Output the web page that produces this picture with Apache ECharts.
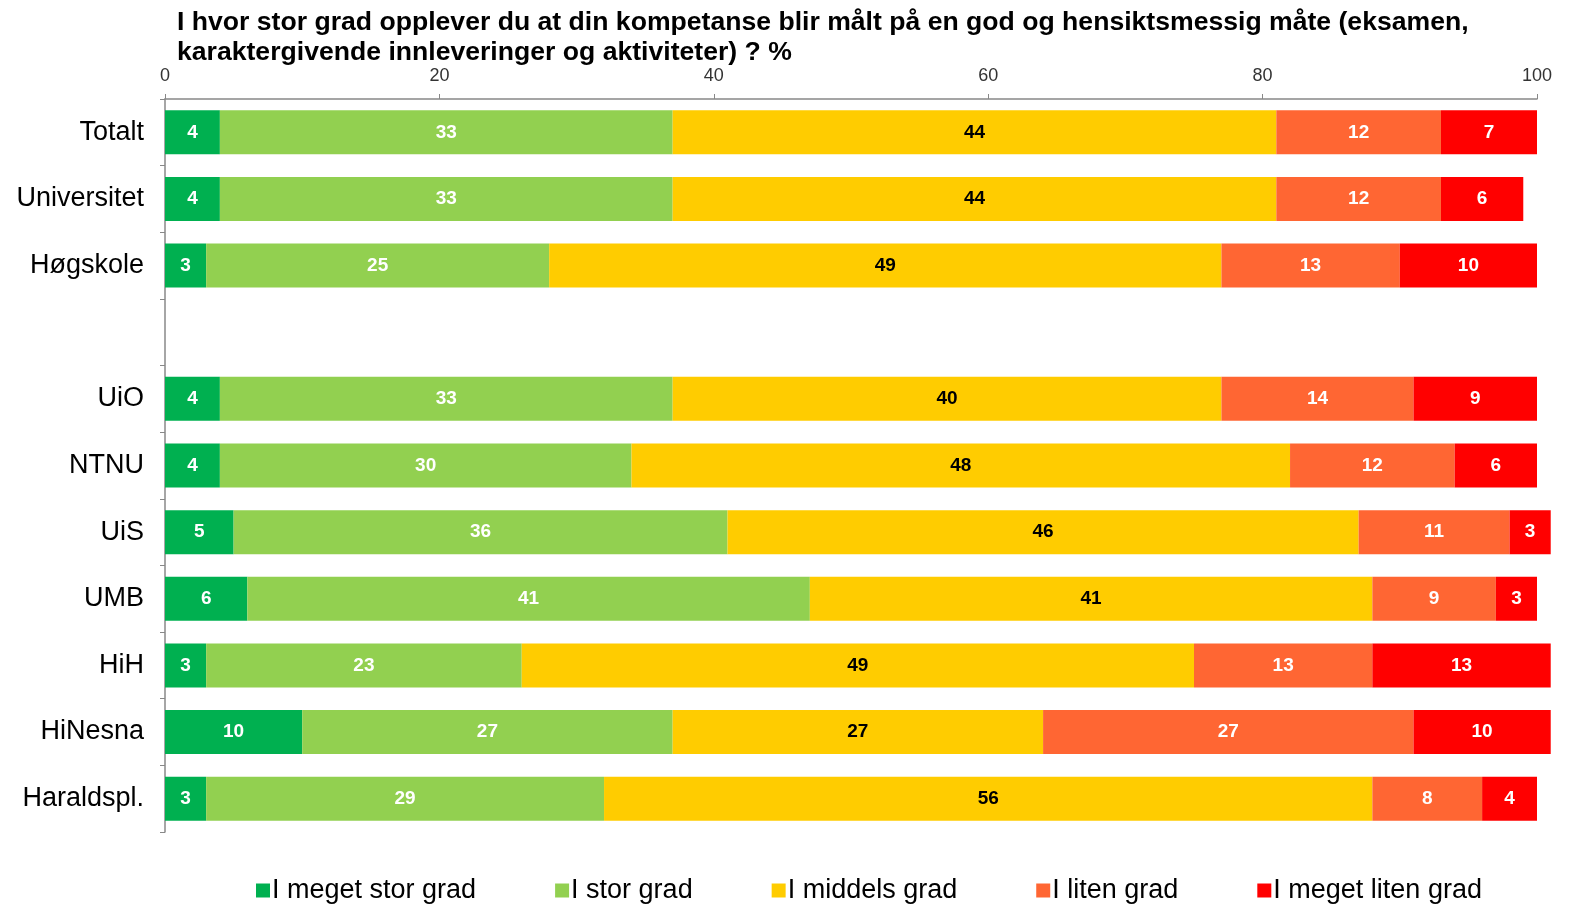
<!DOCTYPE html>
<html>
<head>
<meta charset="utf-8">
<script src="https://cdn.jsdelivr.net/npm/echarts@6/dist/echarts.min.js"></script>
<style>html,body{margin:0;padding:0;background:#fff;}#c{width:1574px;height:906px;}</style>
</head>
<body>
<div id="c"></div>
<script>
const categories = ['Totalt','Universitet','Høgskole','','UiO','NTNU','UiS','UMB','HiH','HiNesna','Haraldspl.'];
const seriesNames = ['I meget stor grad','I stor grad','I middels grad','I liten grad','I meget liten grad'];
const meget_stor = [4,4,3,null,4,4,5,6,3,10,3];
const stor       = [33,33,25,null,33,30,36,41,23,27,29];
const middels    = [44,44,49,null,40,48,46,41,49,27,56];
const liten      = [12,12,13,null,14,12,11,9,13,27,8];
const meget_liten= [7,6,10,null,9,6,3,3,13,10,4];
const xTicks = [0,20,40,60,80,100];
const colors = ['#00B050','#92D050','#FFCC00','#FF6633','#FF0000'];
const labelColors = ['#fff','#fff','#000','#fff','#fff'];
const values = [meget_stor, stor, middels, liten, meget_liten];

const chart = echarts.init(document.getElementById('c'));
chart.setOption({
  animation: false,
  title: {
    text: 'I hvor stor grad opplever du at din kompetanse blir målt på en god og hensiktsmessig måte (eksamen,\nkaraktergivende innleveringer og aktiviteter) ? %',
    left: 172, top: 3,
    textStyle: {fontFamily: 'Liberation Sans, Arial', fontSize: 26.6, fontWeight: 'bold', color: '#000', lineHeight: 30}
  },
  legend: {
    top: 872, left: 251,
    itemWidth: 14, itemHeight: 14, itemGap: 79,
    icon: 'rect',
    textStyle: {fontFamily: 'Liberation Sans, Arial', fontSize: 27, color: '#000', padding: [0,0,0,-3]},
    data: seriesNames
  },
  grid: {left: 165, right: 37, top: 99, bottom: 74, containLabel: false},
  xAxis: {
    type: 'value', position: 'top', min: 0, max: 100, interval: 20,
    axisLine: {show: true, lineStyle: {color: '#888', width: 1.5}},
    axisTick: {show: true, length: 5, lineStyle: {color: '#888'}},
    splitLine: {show: false},
    axisLabel: {fontFamily: 'Liberation Sans, Arial', fontSize: 18, color: '#333', margin: 14,
      formatter: v => xTicks.includes(v) ? String(v) : ''}
  },
  yAxis: {
    type: 'category', inverse: true, data: categories,
    axisLine: {show: true, lineStyle: {color: '#888', width: 1.5}},
    axisTick: {show: true, length: 5, lineStyle: {color: '#888'}},
    axisLabel: {fontFamily: 'Liberation Sans, Arial', fontSize: 27, color: '#000', margin: 21}
  },
  series: seriesNames.map((n, i) => ({
    name: n, type: 'bar', stack: 'all', barWidth: 44, clip: false,
    data: values[i],
    itemStyle: {color: colors[i]},
    label: {show: true, position: 'inside', color: labelColors[i],
      fontFamily: 'Liberation Sans, Arial', fontSize: 19, fontWeight: 'bold',
      formatter: p => p.value == null ? '' : String(p.value)}
  }))
});
</script>
</body>
</html>
